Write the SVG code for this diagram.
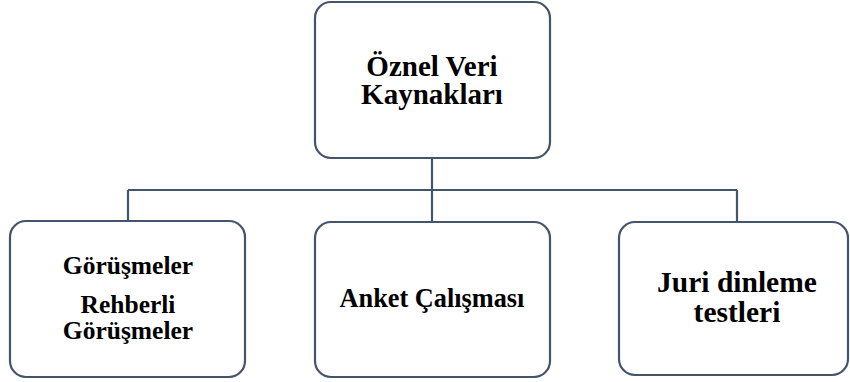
<svg xmlns="http://www.w3.org/2000/svg" width="850" height="382" viewBox="0 0 850 382">
<style>
.box{fill:#ffffff;stroke:#44546a;stroke-width:2.2}
.conn{fill:none;stroke:#44546a;stroke-width:2.2}
text{font-family:"Liberation Serif","Times New Roman",Times,serif;font-weight:bold;fill:#000000;text-anchor:middle}
</style>
<rect width="850" height="382" fill="#ffffff"/>
<g id="connectors">
<path class="conn" d="M432 158 V190 M128 190 H737 M128 190 V221 M432 190 V222 M737 190 V222"/>
</g>
<g id="node-top">
<rect class="box" x="315" y="2" width="235" height="156" rx="16"/>
<text x="432" y="76" font-size="29">Öznel Veri</text>
<text x="432" y="104" font-size="29">Kaynakları</text>
</g>
<g id="node-left">
<rect class="box" x="10" y="221" width="235" height="156" rx="16"/>
<text x="128" y="274" font-size="25.5">Görüşmeler</text>
<text x="128" y="313" font-size="25.5">Rehberli</text>
<text x="128" y="339" font-size="25.5">Görüşmeler</text>
</g>
<g id="node-middle">
<rect class="box" x="315" y="222" width="235" height="155" rx="16"/>
<text x="432" y="307" font-size="26.3">Anket Çalışması</text>
</g>
<g id="node-right">
<rect class="box" x="619" y="222" width="229" height="153" rx="16"/>
<text x="737" y="292" font-size="29.5">Juri dinleme</text>
<text x="737" y="322" font-size="29.5">testleri</text>
</g>
</svg>
